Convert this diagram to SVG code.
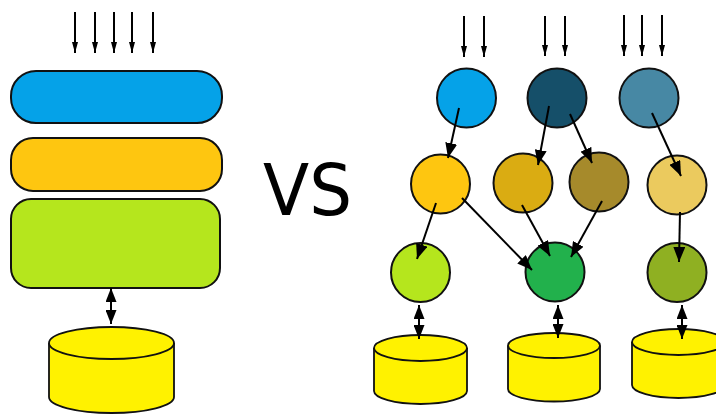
<svg xmlns="http://www.w3.org/2000/svg" width="716" height="416" viewBox="0 0 716 416">
  <style>
    .box { stroke: #111; stroke-width: 2; }
    .node { stroke: #111; stroke-width: 2; }
    .db { fill: #FFF200; stroke: #111; stroke-width: 1.8; }
    .in { stroke: #000; stroke-width: 2; fill: none; marker-end: url(#small); }
    .edge { stroke: #000; stroke-width: 2; fill: none; marker-end: url(#big); }
    .io { stroke: #000; stroke-width: 2; fill: none; marker-start: url(#dbl); marker-end: url(#dbl); }
    .vs { font-family: "DejaVu Sans", sans-serif; font-size: 72px; fill: #000; }
  </style>
  <defs>
    <marker id="small" markerUnits="userSpaceOnUse" viewBox="0 0 11 6" refX="11" refY="3" markerWidth="11" markerHeight="6" orient="auto">
      <path d="M0,0 L11,3 L0,6 Z" fill="#000"/>
    </marker>
    <marker id="big" markerUnits="userSpaceOnUse" viewBox="0 0 15 12" refX="15" refY="6" markerWidth="15" markerHeight="12" orient="auto">
      <path d="M0,0 L15,6 L0,12 Z" fill="#000"/>
    </marker>
    <marker id="dbl" markerUnits="userSpaceOnUse" viewBox="0 0 14 11" refX="14" refY="5.5" markerWidth="14" markerHeight="11" orient="auto-start-reverse">
      <path d="M0,0 L14,5.5 L0,11 Z" fill="#000"/>
    </marker>
  </defs>

  <!-- Layered architecture -->
  <g id="layer-top"><rect class="box" x="11" y="71" width="211" height="52" rx="25" fill="#05A2E8"/></g>
  <g id="layer-mid"><rect class="box" x="11" y="138" width="211" height="53" rx="22" fill="#FEC610"/></g>
  <g id="layer-bottom"><rect class="box" x="11" y="199" width="209" height="89" rx="20" fill="#B5E61D"/></g>
  <g id="db-left">
    <path class="db" d="M49,343 L49,397 A62.5,16 0 0 0 174,397 L174,343"/>
    <ellipse class="db" cx="111.5" cy="343" rx="62.5" ry="16"/>
  </g>

  <text class="vs" x="263" y="215" textLength="89" lengthAdjust="spacingAndGlyphs">VS</text>

  <!-- Service graph nodes -->
  <g id="s1"><circle class="node" cx="466.5" cy="98" r="29.5" fill="#05A2E8"/></g>
  <g id="s2"><circle class="node" cx="557" cy="98" r="29.5" fill="#154F69"/></g>
  <g id="s3"><circle class="node" cx="649" cy="98" r="29.5" fill="#4788A4"/></g>
  <g id="m1"><circle class="node" cx="440.5" cy="184" r="29.5" fill="#FEC610"/></g>
  <g id="m2"><circle class="node" cx="523" cy="183" r="29.5" fill="#DAAC12"/></g>
  <g id="m3"><circle class="node" cx="599" cy="182" r="29.5" fill="#A68A2B"/></g>
  <g id="m4"><circle class="node" cx="677" cy="185" r="29.5" fill="#EBCA5E"/></g>
  <g id="b1"><circle class="node" cx="420.5" cy="272.5" r="29.5" fill="#B5E61D"/></g>
  <g id="b2"><circle class="node" cx="555" cy="272" r="29.5" fill="#22B14C"/></g>
  <g id="b3"><circle class="node" cx="677" cy="272.5" r="29.5" fill="#8FB022"/></g>
  <g id="db1">
    <path class="db" d="M374,348 L374,391 A46.5,13 0 0 0 467,391 L467,348"/>
    <ellipse class="db" cx="420.5" cy="348" rx="46.5" ry="13"/>
  </g>
  <g id="db2">
    <path class="db" d="M508,345.5 L508,389 A46,12.5 0 0 0 600,389 L600,345.5"/>
    <ellipse class="db" cx="554" cy="345.5" rx="46" ry="12.5"/>
  </g>
  <g id="db3">
    <path class="db" d="M632,342 L632,385 A46.5,13 0 0 0 725,385 L725,342"/>
    <ellipse class="db" cx="678.5" cy="342" rx="46.5" ry="13"/>
  </g>

  <!-- Connectors -->
  <g id="connectors">
    <line class="in" x1="75" y1="12" x2="75" y2="53"/>
    <line class="in" x1="95" y1="12" x2="95" y2="53"/>
    <line class="in" x1="114" y1="12" x2="114" y2="53"/>
    <line class="in" x1="132" y1="12" x2="132" y2="53"/>
    <line class="in" x1="153" y1="12" x2="153" y2="53"/>
    <line class="io" x1="111" y1="288" x2="111" y2="324"/>

    <line class="in" x1="464" y1="16" x2="464" y2="57"/>
    <line class="in" x1="484" y1="16" x2="484" y2="57"/>
    <line class="in" x1="545" y1="16" x2="545" y2="56"/>
    <line class="in" x1="565" y1="16" x2="565" y2="56"/>
    <line class="in" x1="624" y1="15" x2="624" y2="56"/>
    <line class="in" x1="642" y1="15" x2="642" y2="56"/>
    <line class="in" x1="662" y1="15" x2="662" y2="56"/>

    <line class="edge" x1="459" y1="108" x2="448" y2="158"/>
    <line class="edge" x1="549" y1="106" x2="538" y2="165"/>
    <line class="edge" x1="570" y1="114" x2="592" y2="163"/>
    <line class="edge" x1="652" y1="113" x2="681" y2="176"/>
    <line class="edge" x1="436" y1="203" x2="417" y2="259"/>
    <line class="edge" x1="462" y1="198" x2="532" y2="270"/>
    <line class="edge" x1="522" y1="205" x2="550" y2="256"/>
    <line class="edge" x1="602" y1="201" x2="571" y2="257"/>
    <line class="edge" x1="680" y1="212" x2="679" y2="262"/>

    <line class="io" x1="419" y1="305" x2="419" y2="339"/>
    <line class="io" x1="558" y1="305" x2="558" y2="338"/>
    <line class="io" x1="682" y1="305" x2="682" y2="339"/>
  </g>
</svg>
